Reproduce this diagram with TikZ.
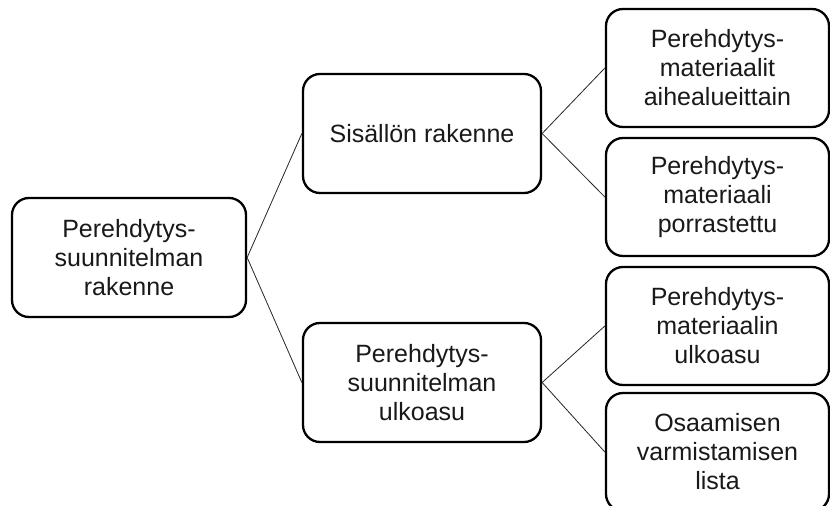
\documentclass[tikz,border=0pt]{standalone}
\usepackage{fontspec}
\setmainfont{Liberation Sans}
\begin{document}
\begin{tikzpicture}[x=1pt,y=-1pt,
  box/.style={draw=black, line width=2.3pt, rounded corners=17pt, fill=white,
    align=center, inner sep=0pt, text=black!90,
    font=\fontsize{25}{29}\selectfont},
  link/.style={draw=black!85, line width=0.8pt}]
  \clip (0,0) rectangle (830,506);
  \fill[white] (0,0) rectangle (830,506);

  % root
  \node[box, minimum width=234pt, minimum height=119pt] (root) at (129,257.5)
    {Perehdytys-\\suunnitelman\\rakenne};

  % second level
  \node[box, minimum width=238pt, minimum height=119pt] (sis) at (422,133.5)
    {Sisällön rakenne};
  \node[box, minimum width=238pt, minimum height=119pt] (ulk) at (422,382.5)
    {Perehdytys-\\suunnitelman\\ulkoasu};

  % leaves
  \node[box, minimum width=223pt, minimum height=118pt] (a) at (717.5,68)
    {Perehdytys-\\materiaalit\\aihealueittain};
  \node[box, minimum width=223pt, minimum height=118pt] (b) at (717.5,197)
    {Perehdytys-\\materiaali\\porrastettu};
  \node[box, minimum width=223pt, minimum height=118pt] (c) at (717.5,326)
    {Perehdytys-\\materiaalin\\ulkoasu};
  \node[box, minimum width=223pt, minimum height=118pt] (d) at (717.5,452)
    {Osaamisen\\varmistamisen\\lista};

  % connectors
  \draw[link] (root.east) -- (sis.west);
  \draw[link] (root.east) -- (ulk.west);
  \draw[link] (sis.east) -- (a.west);
  \draw[link] (sis.east) -- (b.west);
  \draw[link] (ulk.east) -- (c.west);
  \draw[link] (ulk.east) -- (d.west);
\end{tikzpicture}
\end{document}
